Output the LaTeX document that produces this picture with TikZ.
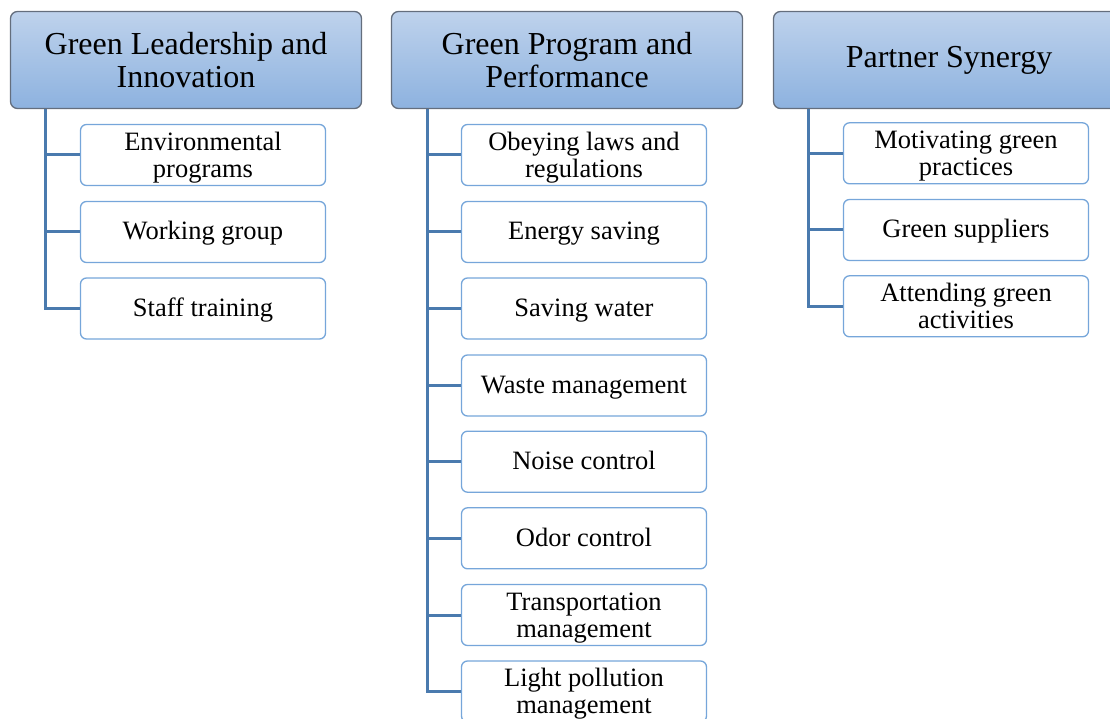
\documentclass[tikz,border=0pt]{standalone}
\usepackage{fontspec}
\setmainfont{Liberation Serif}
\definecolor{headtop}{RGB}{190,210,236}
\definecolor{headbot}{RGB}{141,178,223}
\definecolor{headline}{RGB}{100,110,125}
\definecolor{boxline}{RGB}{118,166,218}
\definecolor{trunkblue}{RGB}{74,122,174}
% item labels: zero-size boxes so that the baseline sits at a fixed offset from the box centre
\newcommand\oneline[1]{\raisebox{-8pt}[0pt][0pt]{#1}}
\newcommand\twolines[2]{\raisebox{-9.7pt}[0pt][0pt]{\begin{tabular}{@{}c@{}}#1\\#2\end{tabular}}}
\begin{document}
\begin{tikzpicture}[x=1pt,y=-1pt,
  headbox/.style={rectangle, rounded corners=7pt, draw=headline, line width=1.3pt,
    top color=headtop, bottom color=headbot, minimum width=351pt, minimum height=97pt,
    inner sep=0pt, align=center, font=\fontsize{32}{33}\selectfont},
  itembox/.style={rectangle, rounded corners=6pt, draw=boxline, line width=1.3pt,
    fill=white, minimum width=245pt, minimum height=61pt, inner sep=0pt,
    font=\fontsize{26.5}{27}\selectfont},
  trunk/.style={draw=trunkblue, line width=3pt}]
\useasboundingbox (0,0) rectangle (1110,719);
\clip (0,0) rectangle (1110,719);

% attachment points of the three trunks under the headers
\coordinate (t1) at (45,109);
\coordinate (t2) at (427,109);
\coordinate (t3) at (808,108);

% first column
\node[itembox] (c11) at (203,155) {\twolines{Environmental}{programs}};
\node[itembox] (c12) at (203,232) {\oneline{Working group}};
\node[itembox] (c13) at (203,308.5) {\oneline{Staff training}};

% second column
\node[itembox] (c21) at (584,155) {\twolines{Obeying laws and}{regulations}};
\node[itembox] (c22) at (584,232) {\oneline{Energy saving}};
\node[itembox] (c23) at (584,308.5) {\oneline{Saving water}};
\node[itembox] (c24) at (584,385.5) {\oneline{Waste management}};
\node[itembox] (c25) at (584,461.7) {\oneline{Noise control}};
\node[itembox] (c26) at (584,538.3) {\oneline{Odor control}};
\node[itembox] (c27) at (584,615) {\twolines{Transportation}{management}};
\node[itembox] (c28) at (584,691.5) {\twolines{Light pollution}{management}};

% third column
\node[itembox] (c31) at (966,153.3) {\twolines{Motivating green}{practices}};
\node[itembox] (c32) at (966,230) {\oneline{Green suppliers}};
\node[itembox] (c33) at (966,306.3) {\twolines{Attending green}{activities}};

% connectors
\draw[trunk] (t1) |- (c13.west);
\foreach \c in {c11,c12} \draw[trunk] (t1 |- \c.west) -- (\c.west);
\draw[trunk] (t2) |- (c28.west);
\foreach \c in {c21,c22,c23,c24,c25,c26,c27} \draw[trunk] (t2 |- \c.west) -- (\c.west);
\draw[trunk] (t3) |- (c33.west);
\foreach \c in {c31,c32} \draw[trunk] (t3 |- \c.west) -- (\c.west);

% headers
\node[headbox] (h1) at (186,60) {Green Leadership and\\Innovation};
\node[headbox] (h2) at (567,60) {Green Program and\\Performance};
\node[headbox] (h3) at (949,60) {Partner Synergy};
\end{tikzpicture}
\end{document}
